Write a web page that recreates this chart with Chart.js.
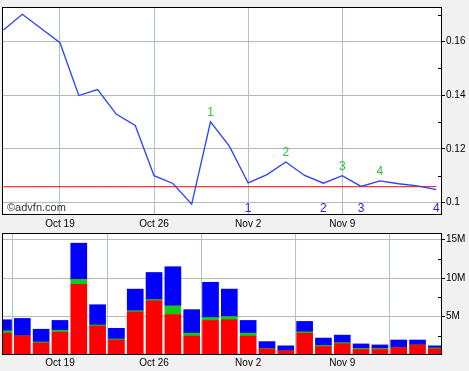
<!DOCTYPE html>
<html>
<head>
<meta charset="utf-8">
<script src="https://cdn.jsdelivr.net/npm/chart.js@4"></script>
<style>
  body { margin: 0; background: #f1f1f1; width: 469px; height: 371px; overflow: hidden; }
  #priceBox { position: absolute; left: 0; top: 0; }
  #volBox { position: absolute; left: 0; top: 226px; }
</style>
</head>
<body>
<div id="priceBox"><canvas id="priceChart" width="469" height="232"></canvas></div>
<div id="volBox"><canvas id="volChart" width="469" height="145"></canvas></div>
<script>
const days = ['Oct 14', 'Oct 15', 'Oct 16', 'Oct 19', 'Oct 20', 'Oct 21', 'Oct 22', 'Oct 23',
    'Oct 26', 'Oct 27', 'Oct 28', 'Oct 29', 'Oct 30', 'Nov 2', 'Nov 3', 'Nov 4', 'Nov 5', 'Nov 6',
    'Nov 9', 'Nov 10', 'Nov 11', 'Nov 12', 'Nov 13', 'Nov 16'];
const tickLabels = ['Oct 19', 'Oct 26', 'Nov 2', 'Nov 9'];

const price = [0.1643, 0.1702, 0.1649, 0.1596, 0.1399, 0.1421, 0.1329, 0.1287, 0.1100, 0.1071,
    0.0994, 0.1301, 0.1210, 0.1073, 0.1104, 0.1151, 0.1101, 0.1072, 0.1100, 0.1060, 0.1081,
    0.1070, 0.1062, 0.1048];
const refLevel = 0.1059;
const priceTicks = [0.1, 0.12, 0.14, 0.16];
const priceMinor = [0.11, 0.13, 0.15, 0.17];

// volume in millions
const volRed = [2.84, 2.50, 1.57, 2.97, 9.19, 3.77, 1.95, 5.59, 7.03, 5.25, 2.46, 4.49, 4.58,
    2.46, 0.80, 0.55, 2.84, 1.10, 1.48, 0.72, 0.72, 0.97, 1.31, 0.80];
const volGreen = [0.30, 0, 0.13, 0.25, 0.64, 0.13, 0.13, 0.17, 0.17, 1.14, 0.38, 0.38, 0.42,
    0.38, 0.05, 0, 0.17, 0.13, 0.13, 0.13, 0.13, 0, 0, 0.13];
const volBlue = [1.44, 2.25, 1.65, 1.27, 4.70, 2.63, 1.39, 2.80, 3.52, 5.08, 3.05, 4.58, 3.56,
    1.65, 0.89, 0.64, 1.35, 0.97, 0.97, 0.59, 0.46, 0.98, 0.64, 0.26];
const volTicks = [5, 10, 15];
const volMinor = [2.5, 7.5, 12.5];

// news markers
const greenMarks = [['Oct 29', '1'], ['Nov 4', '2'], ['Nov 9', '3'], ['Nov 11', '4']];
const blueMarks = [['Nov 2', '1'], ['Nov 6', '2'], ['Nov 10', '3'], ['Nov 16', '4']];

const FONT = "'Liberation Sans', Arial, sans-serif";
const tickIdx = tickLabels.map(l => days.indexOf(l));

// white plot area, black frame, small inner minor ticks
const frame = {
    id: 'frame',
    beforeDraw(chart) {
        const a = chart.chartArea, ctx = chart.ctx;
        ctx.save();
        ctx.fillStyle = '#fff';
        ctx.fillRect(a.left, a.top, a.right - a.left, a.bottom - a.top);
        ctx.restore();
    },
    afterDraw(chart, args, opts) {
        const a = chart.chartArea, ctx = chart.ctx;
        ctx.save();
        ctx.strokeStyle = '#000';
        ctx.lineWidth = 1;
        ctx.strokeRect(Math.round(a.left) + 0.5, Math.round(a.top) + 0.5,
            Math.round(a.right - a.left) - 1, Math.round(a.bottom - a.top) - 1);
        ctx.beginPath();
        (opts.minor || []).forEach(v => {
            const y = Math.round(chart.scales.y.getPixelForValue(v)) + 0.5;
            ctx.moveTo(a.right - 4, y);
            ctx.lineTo(a.right, y);
        });
        ctx.stroke();
        ctx.restore();
    }
};

const priceMarks = {
    id: 'priceMarks',
    afterDatasetsDraw(chart) {
        const a = chart.chartArea, ctx = chart.ctx;
        const xs = chart.scales.x, ys = chart.scales.y;
        ctx.save();
        ctx.font = `12px ${FONT}`;
        ctx.textAlign = 'center';
        ctx.textBaseline = 'bottom';
        ctx.fillStyle = '#2fbf2f';
        greenMarks.forEach(([d, t]) => {
            const i = days.indexOf(d);
            ctx.fillText(t, xs.getPixelForValue(i), ys.getPixelForValue(price[i]) - 3);
        });
        ctx.fillStyle = '#2525ee';
        ctx.textBaseline = 'alphabetic';
        blueMarks.forEach(([d, t]) => {
            const i = days.indexOf(d);
            ctx.fillText(t, xs.getPixelForValue(i), a.bottom - 3);
        });
        ctx.fillStyle = '#333';
        ctx.font = `11px ${FONT}`;
        ctx.textAlign = 'left';
        ctx.fillText('\u00a9advfn.com', a.left + 5, a.bottom - 4);
        ctx.restore();
    }
};

function xAxis(height, pad) {
    return {
        type: 'linear',
        min: -0.08,
        max: 23.3,
        afterBuildTicks: s => { s.ticks = tickIdx.map(v => ({ value: v })); },
        afterFit: s => { s.height = height; },
        ticks: {
            autoSkip: false, maxRotation: 0, padding: pad, color: '#000',
            font: { family: FONT, size: 10 },
            callback: v => days[v]
        },
        grid: { color: '#a9c5c5', drawTicks: false },
        border: { display: false }
    };
}

function yAxis(min, max, ticks, fmt, gridColor) {
    return {
        type: 'linear',
        position: 'right',
        min: min,
        max: max,
        afterBuildTicks: s => { s.ticks = ticks.map(v => ({ value: v })); },
        afterFit: s => { s.width = 27; },
        ticks: {
            padding: 1, color: '#000',
            font: { family: FONT, size: 10 },
            callback: fmt
        },
        grid: { color: gridColor, tickColor: '#000', tickLength: 3 },
        border: { display: false }
    };
}

new Chart(document.getElementById('priceChart'), {
    type: 'line',
    data: {
        datasets: [{
            data: price.map((v, i) => ({ x: i, y: v })),
            borderColor: '#2a40ff',
            borderWidth: 1.3,
            pointRadius: 0,
            tension: 0,
            order: 0
        }, {
            data: days.map((d, i) => ({ x: i, y: refLevel })),
            borderColor: '#ff0000',
            borderWidth: 1,
            pointRadius: 0,
            tension: 0,
            order: 1
        }]
    },
    options: {
        responsive: false,
        animation: false,
        devicePixelRatio: 1,
        layout: { padding: { top: 3, left: 2, right: 0, bottom: 0 } },
        plugins: { legend: { display: false }, tooltip: { enabled: false }, frame: { minor: priceMinor } },
        scales: {
            x: xAxis(17, 3),
            y: yAxis(0.09535, 0.1729, priceTicks, v => String(+v.toFixed(2)), '#b5b8b8')
        }
    },
    plugins: [frame, priceMarks]
});

new Chart(document.getElementById('volChart'), {
    type: 'bar',
    data: {
        datasets: [
            { data: volRed.map((v, i) => ({ x: i, y: v })), backgroundColor: '#ff0000' },
            { data: volGreen.map((v, i) => ({ x: i, y: v })), backgroundColor: '#18c818' },
            { data: volBlue.map((v, i) => ({ x: i, y: v })), backgroundColor: '#0000ff' }
        ]
    },
    options: {
        responsive: false,
        animation: false,
        devicePixelRatio: 1,
        layout: { padding: { top: 3, left: 2, right: 0, bottom: 0 } },
        plugins: { legend: { display: false }, tooltip: { enabled: false }, frame: { minor: volMinor } },
        datasets: { bar: { barThickness: 16, borderWidth: 0 } },
        scales: {
            x: Object.assign(xAxis(16, 2), { stacked: true, offset: false }),
            y: Object.assign(yAxis(0, 15.85, volTicks, v => v + 'M', '#bdbcaa'), { stacked: true })
        }
    },
    plugins: [frame]
});
</script>
</body>
</html>
